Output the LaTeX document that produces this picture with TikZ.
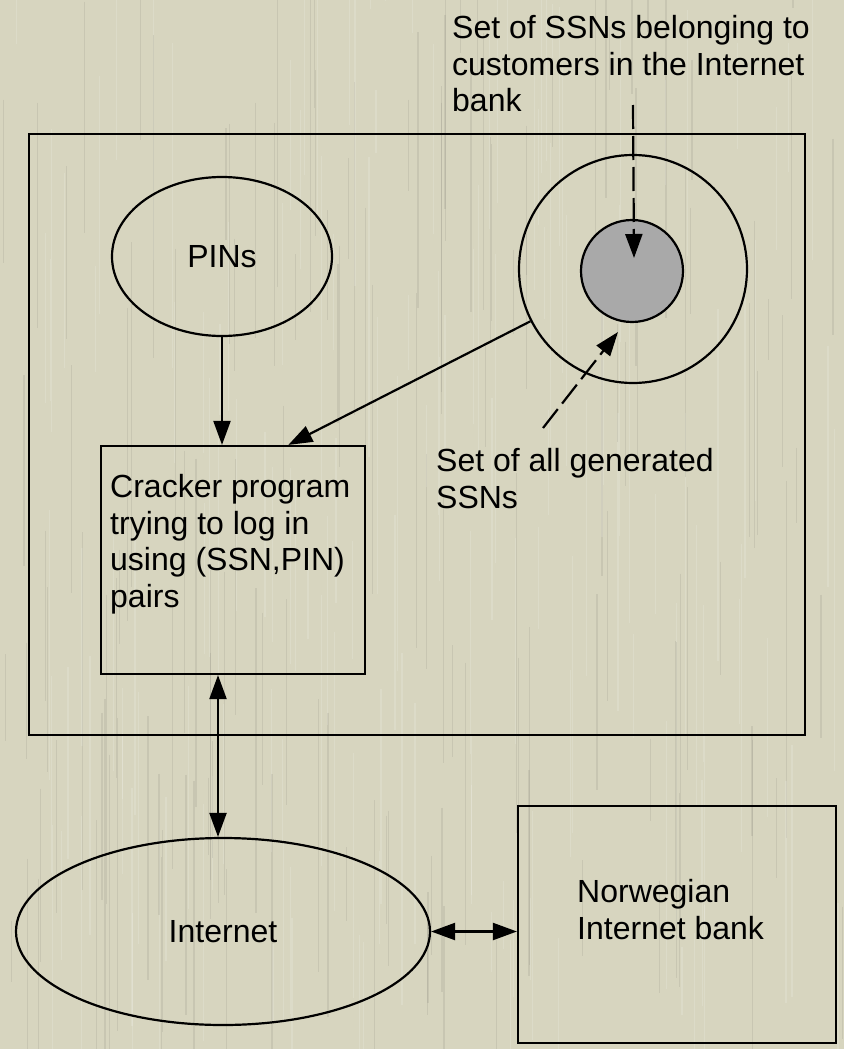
\documentclass[tikz,border=0pt]{standalone}
\usepackage{fontspec}
\setmainfont{Liberation Sans}
\usetikzlibrary{arrows.meta,calc,shapes.geometric}
\definecolor{bgcol}{RGB}{215,213,191}
\definecolor{setgray}{RGB}{169,169,169}
\begin{document}
\begin{tikzpicture}[x=1pt,y=-1pt,
  every node/.style={font=\fontsize{32}{36.7}\selectfont},
  box/.style={draw, line width=2.2pt, rectangle, inner sep=0pt},
  oval/.style={draw, line width=2.2pt, ellipse, inner sep=0pt},
  ring/.style={draw, line width=2.2pt, circle, inner sep=0pt},
  txt/.style={align=left, inner sep=0pt, anchor=north west},
  tip/.style={-{Triangle[length=24pt,width=17pt]}},
  dtip/.style={{Triangle[length=24pt,width=17pt]}-{Triangle[length=24pt,width=17pt]}},
  conn/.style={line width=2.2pt},
  dsh/.style={line width=2.2pt, dash pattern=on 24pt off 7pt},
  streak/.style={line width=1.2pt, opacity=0.15}
]
\useasboundingbox (0,0) rectangle (844,1049);
\begin{scope}
\clip (0,0) rectangle (844,1049);
\fill[bgcol] (0,0) rectangle (844,1049);
\pgfmathsetseed{7}
\foreach \i in {1,...,300}{
  \pgfmathsetmacro{\xx}{rnd*844}
  \pgfmathsetmacro{\yy}{rnd*1049-100}
  \pgfmathsetmacro{\ll}{60+rnd*300}
  \pgfmathsetmacro{\cc}{rnd}
  \ifdim\cc pt<0.5pt
    \draw[streak, white] (\xx,\yy) -- ++(0,\ll);
  \else
    \draw[streak, black!45!bgcol] (\xx,\yy) -- ++(0,\ll);
  \fi
}
\end{scope}

% containers and shapes
\node[box, minimum width=776pt, minimum height=601pt] (outer) at (417,434.5) {};
\node[oval, minimum width=220pt, minimum height=159pt] (pins) at (222,256.5) {PINs};
\node[ring, minimum size=228pt] (allssn) at (633,269) {};
\node[ring, fill=setgray, minimum size=102pt] (custssn) at (632,271) {};
\node[box, minimum width=264pt, minimum height=228pt] (cracker) at (233,560) {};
\node[oval, minimum width=414pt, minimum height=187pt] (inet) at (223,931.5) {Internet};
\node[box, minimum width=318pt, minimum height=237pt] (bank) at (677,924.5) {};

% texts
\node[txt] (topnote) at (452,15) {Set of SSNs belonging to\\customers in the Internet\\bank};
\node[txt] (gennote) at (436,448) {Set of all generated\\SSNs};
\node[txt] (crackertext) at (110,474) {Cracker program\\trying to log in\\using (SSN,PIN)\\pairs};
\node[txt] (banktext) at (577,879) {Norwegian\\Internet bank};

% connectors
\coordinate (topstart) at (633,105);
\coordinate (toptip) at (634,258);
\coordinate (genstart) at (543,428);
\coordinate (gentip) at (618,332);

\draw[conn, tip] (pins.south) -- (pins.south |- cracker.north);
\draw[conn, tip] (allssn.207.7) -- ($(cracker.north west)!0.708!(cracker.north east)$);
\draw[dsh, tip] (topstart) -- (toptip);
\draw[dsh, tip] (genstart) -- (gentip);
\draw[conn, dtip] (cracker.south -| 218,0) -- (218,0 |- inet.north);
\draw[conn, dtip] (inet.east) -- (bank.west |- inet.east);
\end{tikzpicture}
\end{document}
